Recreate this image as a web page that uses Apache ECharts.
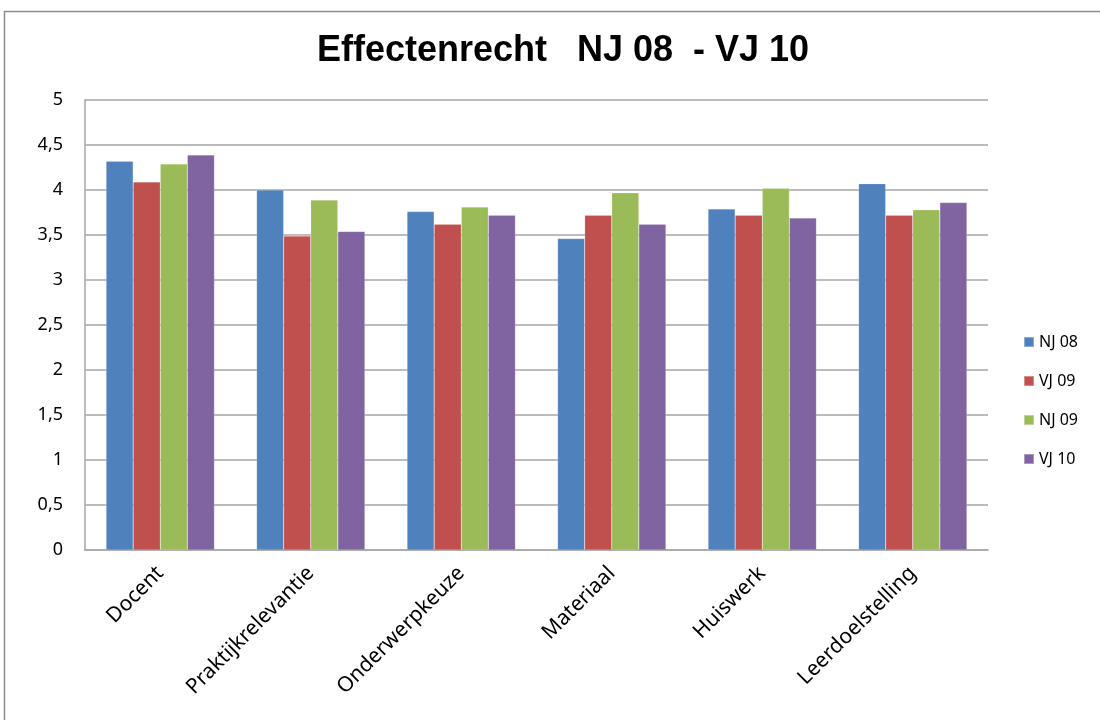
<!DOCTYPE html>
<html>
<head>
<meta charset="utf-8">
<script src="https://cdn.jsdelivr.net/npm/echarts@6/dist/echarts.min.js"></script>
<style>html,body{margin:0;padding:0;background:#fff;}#c{width:1100px;height:720px;}</style>
</head>
<body>
<div id="c"></div>
<script>
const categories = ['Docent', 'Praktijkrelevantie', 'Onderwerpkeuze', 'Materiaal', 'Huiswerk', 'Leerdoelstelling'];
const seriesNames = ['NJ 08', 'VJ 09', 'NJ 09', 'VJ 10'];
const nj08 = [4.32, 4.00, 3.76, 3.46, 3.79, 4.07];
const vj09 = [4.09, 3.49, 3.62, 3.72, 3.72, 3.72];
const nj09 = [4.29, 3.89, 3.81, 3.97, 4.02, 3.78];
const vj10 = [4.39, 3.54, 3.72, 3.62, 3.69, 3.86];
const colors = ['#4F81BD', '#C0504D', '#9BBB59', '#8064A2'];
const values = [nj08, vj09, nj09, vj10];

const chart = echarts.init(document.getElementById('c'));
const font = "'Noto Sans', 'Liberation Sans', Arial, sans-serif";
chart.setOption({
  animation: false,
  color: colors,
  title: {
    text: 'Effectenrecht   NJ 08  - VJ 10',
    left: 558, top: 28, textAlign: 'center',
    textStyle: { fontFamily: "'Liberation Sans', Arial, sans-serif", fontWeight: 'bold', fontSize: 36, color: '#000' }
  },
  graphic: [{
    type: 'rect', shape: { x: 4.5, y: 11.5, width: 1110, height: 720 },
    style: { fill: 'none', stroke: '#8c8c8c', lineWidth: 1.5 }, silent: true
  }],
  legend: {
    orient: 'vertical', left: 1018, top: 329, itemGap: 23,
    itemWidth: 10, itemHeight: 10, icon: 'rect',
    textStyle: { fontFamily: font, fontSize: 16, color: '#000' },
    data: seriesNames
  },
  grid: { left: 85, right: 112, top: 100, bottom: 170, containLabel: false },
  xAxis: {
    type: 'category', data: categories,
    axisLine: { lineStyle: { color: '#a6a6a6', width: 1.5 } },
    axisTick: { show: false },
    axisLabel: { rotate: 45, margin: 20, interval: 0, fontFamily: font, fontSize: 21, color: '#000' }
  },
  yAxis: {
    type: 'value', min: 0, max: 5, interval: 0.5,
    axisLine: { show: true, lineStyle: { color: '#a6a6a6', width: 1.5 } },
    axisTick: { show: false },
    splitLine: { lineStyle: { color: '#a6a6a6', width: 1.5 } },
    axisLabel: { margin: 22, fontFamily: font, fontSize: 18, color: '#000',
      formatter: v => String(v).replace('.', ',') }
  },
  series: seriesNames.map((n, i) => ({
    name: n, type: 'bar', data: values[i],
    barGap: '0%', barCategoryGap: '28%',
    itemStyle: { color: colors[i], borderColor: 'rgba(255,255,255,0.35)', borderWidth: 0.5 }
  }))
});
</script>
</body>
</html>
